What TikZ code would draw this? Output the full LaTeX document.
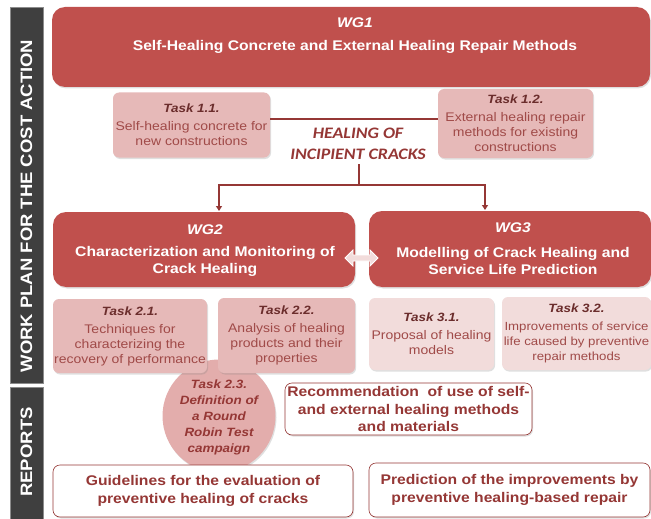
\documentclass[tikz,border=0pt]{standalone}
\usepackage{fontspec}
\setmainfont{Liberation Sans}[FakeStretch=1.12]
\newfontfamily\healfont{Carlito}[FakeStretch=1.12]
\usetikzlibrary{shadows,calc,arrows.meta}
\definecolor{wgred}{HTML}{C0504D}
\definecolor{taskA}{HTML}{E6B9B8}
\definecolor{taskB}{HTML}{F2DCDB}
\definecolor{circc}{HTML}{E3ADAC}
\definecolor{titlec}{HTML}{6B2D2C}
\definecolor{bodyc}{HTML}{A04A48}
\definecolor{darkred}{HTML}{953735}
\definecolor{barc}{HTML}{3F3F3F}
\begin{document}
\begin{tikzpicture}[x=1pt,y=-1pt,
  shad/.style={drop shadow={opacity=0.25,shadow xshift=1pt,shadow yshift=-1.5pt}},
  wgbox/.style={fill=wgred,rounded corners=13pt,shad,inner sep=0pt},
  wgtitle/.style={text=white,font=\fontsize{14}{17}\selectfont\bfseries\itshape},
  wgtext/.style={text=white,font=\fontsize{14}{17}\selectfont\bfseries,align=center},
  taskbox/.style={fill=taskA,rounded corners=6pt,shad,align=center,text=bodyc,
     font=\fontsize{12.5}{15}\selectfont,inner sep=0pt},
  taskboxB/.style={taskbox,fill=taskB},
  repbox/.style={draw=darkred,line width=0.6pt,fill=white,rounded corners=7pt,align=center,
     text=darkred,font=\fontsize{14}{17.5}\selectfont\bfseries,inner sep=0pt,shad},
  barbox/.style={fill=barc,draw=black!45,line width=1pt,inner sep=0pt},
  bartext/.style={text=white,font=\fontsize{16.5}{18}\selectfont\bfseries,rotate=90},
  conn/.style={draw=darkred,line width=1.3pt}
]
\useasboundingbox (0,0) rectangle (651,519);
\newcommand{\tk}[1]{{\color{titlec}\fontsize{12}{15}\selectfont\bfseries\itshape #1}\\[3pt]}

% left bars
\node[barbox,minimum width=33pt,minimum height=375pt] (bar1) at (26.5,195.5) {};
\node[bartext] (bar1t) at (26.5,206) {WORK PLAN FOR THE COST ACTION};
\node[barbox,minimum width=33pt,minimum height=134pt] (bar2) at (26.5,454) {};
\node[bartext] (bar2t) at (26.5,452) {REPORTS};

% WG1
\node[wgbox,minimum width=598pt,minimum height=80pt] (wg1) at (351,47) {};
\node[wgtitle] (wg1a) at (355,23) {WG1};
\node[wgtext] (wg1b) at (355,47) {Self-Healing Concrete and External Healing Repair Methods};

% Tasks 1.x
\node[taskbox,minimum width=157pt,minimum height=65pt] (t11) at (191.5,125)
  {\tk{Task 1.1.}Self-healing concrete for\\new constructions};
\node[taskbox,minimum width=155pt,minimum height=69pt] (t12) at (515.5,123.5)
  {\tk{Task 1.2.}External healing repair\\methods for existing\\constructions};
\draw[conn] (t11.east |- 0,119) -- (t12.west |- 0,119);

% Healing of incipient cracks
\node[text=darkred,align=center,font=\fontsize{16}{21}\healfont\bfseries\itshape,inner sep=0pt]
  (heal) at (358,144) {HEALING OF\\INCIPIENT CRACKS};
\coordinate (j) at (359,185);
\coordinate (a2) at (219,211);
\coordinate (a3) at (485,210);
\draw[conn] (heal.south -| j) ++(0,4) -- (j);
\draw[conn,-{Triangle[length=5pt,width=6pt]}] (j) -| (a2);
\draw[conn,-{Triangle[length=5pt,width=6pt]}] (j) -| (a3);

% WG2 / WG3
\node[wgbox,minimum width=302pt,minimum height=75pt] (wg2) at (204,249.5) {};
\node[wgtitle] (wg2a) at (205,230) {WG2};
\node[wgtext] (wg2b) at (205,261.5) {Characterization and Monitoring of\\Crack Healing};
\node[wgbox,minimum width=282pt,minimum height=76pt] (wg3) at (510,249) {};
\node[wgtitle] (wg3a) at (513,228) {WG3};
\node[wgtext] (wg3b) at (513,260.5) {Modelling of Crack Healing and\\Service Life Prediction};

% double arrow between WG2 and WG3
\filldraw[fill=taskB,draw=white,line width=0.8pt]
  (345,258) -- (353,250) -- (353,255) -- (370,255) -- (370,250) -- (378,258)
  -- (370,266) -- (370,261) -- (353,261) -- (353,266) -- cycle;

% Task 2.3 circle (behind tasks)
\node[circle,fill=circc,minimum size=113pt,inner sep=0pt,shad] (t23) at (219,416) {};

% Tasks 2.x 3.x
\node[taskbox,minimum width=154pt,minimum height=74pt] (t21) at (130,336)
  {\tk{Task 2.1.}Techniques for\\characterizing the\\recovery of performance};
\node[taskbox,minimum width=137pt,minimum height=75pt] (t22) at (286.5,335.5)
  {\tk{Task 2.2.}Analysis of healing\\products and their\\properties};
\node[taskboxB,minimum width=125pt,minimum height=72pt] (t31) at (431.5,334)
  {\tk{Task 3.1.}Proposal of healing\\models};
\node[taskboxB,minimum width=149pt,minimum height=73pt,font=\fontsize{11.8}{15}\selectfont] (t32) at (576.5,333.5)
  {\tk{Task 3.2.}Improvements of service\\life caused by preventive\\repair methods};
\node[align=center,inner sep=0pt,
  text=darkred,font=\fontsize{12}{16}\selectfont\bfseries\itshape] (t23t) at (219,417)
  {Task 2.3.\\Definition of\\a Round\\Robin Test\\campaign};

% reports
\node[repbox,minimum width=247pt,minimum height=52pt] (rec) at (408.5,409)
  {Recommendation\ \ of use of self-\\and external healing methods\\and materials};
\node[repbox,minimum width=300pt,minimum height=52pt,font=\fontsize{14}{18}\selectfont\bfseries] (gui) at (203,491)
  {Guidelines for the evaluation of\\preventive healing of cracks};
\node[repbox,minimum width=281pt,minimum height=54pt,font=\fontsize{14}{18}\selectfont\bfseries] (pred) at (509.5,490)
  {Prediction of the improvements by\\preventive healing-based repair};
\end{tikzpicture}
\end{document}
